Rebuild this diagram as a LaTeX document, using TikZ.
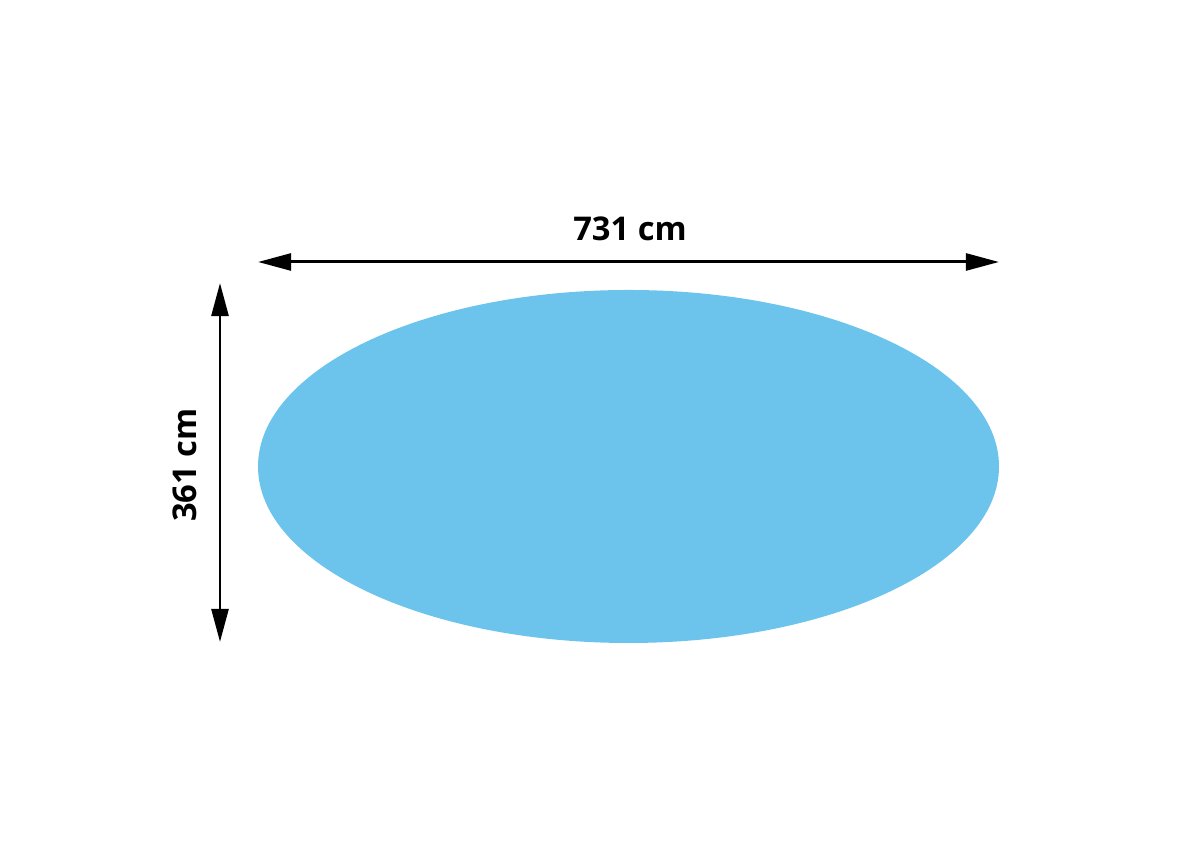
\documentclass[tikz,border=0pt]{standalone}
\usepackage{fontspec}
\setmainfont{Open Sans}
\usetikzlibrary{arrows.meta}
\definecolor{poolblue}{RGB}{108,196,237}
\tikzset{dimline/.style={line width=.85pt, {Triangle[length=9.4pt,width=4.8pt]}-{Triangle[length=9.4pt,width=4.8pt]}},
  dimlabel/.style={font=\fontsize{9.3}{11}\selectfont\bfseries, inner sep=0pt}}
\begin{document}
\begin{tikzpicture}[x=.01cm, y=.01cm]
\useasboundingbox (0,0) rectangle (1200,858);
\fill[poolblue] (628.5,391.5) ellipse (370.5 and 176.5);
\coordinate (wl) at (258,596);
\coordinate (wr) at (999,596);
\draw[dimline] (wl) -- (wr);
\node[dimlabel] (wtext) at (630,629) {731 cm};
\coordinate (ht) at (220,575);
\coordinate (hb) at (220,216);
\draw[dimline] (ht) -- (hb);
\node[dimlabel, rotate=90] (htext) at (185,393) {361 cm};
\end{tikzpicture}
\end{document}
